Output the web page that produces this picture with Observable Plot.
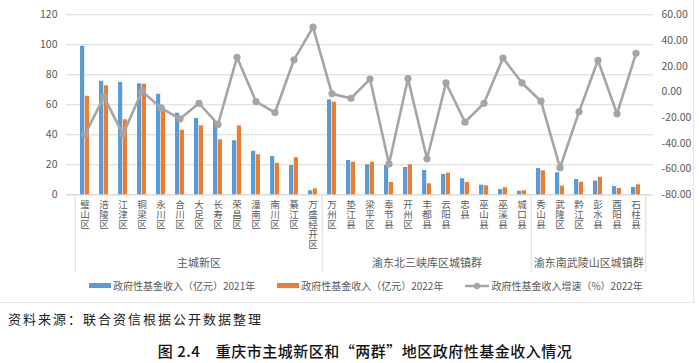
<!DOCTYPE html>
<html><head><meta charset="utf-8">
<script src="https://cdn.jsdelivr.net/npm/d3@7"></script>
<script src="https://cdn.jsdelivr.net/npm/@observablehq/plot@0.6"></script>
<style>
body{margin:0;background:#fff;font-family:"Noto Sans CJK SC","Noto Sans",sans-serif;}
#wrap{position:relative;width:700px;height:363px;}
#chartbox{position:absolute;left:0;top:0;width:694px;height:303px;border-right:1px solid #e6e6e6;border-bottom:1px solid #e6e6e6;box-sizing:border-box;}
#legend{position:absolute;left:89px;top:278px;display:flex;align-items:center;gap:22px;font-size:10px;color:#595959;}
.item{display:flex;align-items:center;gap:2px;white-space:nowrap;}
.sw{display:inline-block;width:22px;height:5px;}
#source{position:absolute;left:8px;top:309px;font-size:13px;letter-spacing:2px;color:#222;}
#title{position:absolute;left:0;width:730px;top:340px;text-align:center;font-size:15px;font-weight:500;color:#111;letter-spacing:0.5px;}
</style></head>
<body>
<div id="wrap">
<div id="chartbox"></div>
<div id="chart" style="position:absolute;left:0;top:0"></div>
<div id="legend"></div>
<div id="source">资料来源：联合资信根据公开数据整理</div>
<div id="title">图 2.4　重庆市主城新区和“两群”地区政府性基金收入情况</div>
</div>
<script>
const categories = ["璧山区","涪陵区","江津区","铜梁区","永川区","合川区","大足区","长寿区","荣昌区","潼南区","南川区","綦江区","万盛经开区","万州区","垫江县","梁平区","奉节县","开州区","丰都县","云阳县","忠县","巫山县","巫溪县","城口县","秀山县","武隆区","黔江区","彭水县","酉阳县","石柱县"];
const income2021 = [99, 75.7, 74.9, 74, 67, 54.4, 50.9, 49, 36, 29, 25.5, 19.5, 2.7, 63.3, 22.9, 20, 19.5, 18.2, 16.2, 13.5, 10.7, 6.4, 3.5, 2.4, 17.5, 14.7, 10.2, 9.1, 5.5, 4.9];
const income2022 = [65.7, 72.7, 50, 73.7, 58.4, 43, 46, 36.7, 46, 26.7, 21, 24.7, 4, 61.7, 21.7, 21.7, 8.2, 20, 7.3, 14.4, 8.2, 6, 4.7, 2.7, 16, 5.8, 8.4, 11.7, 4.2, 6.7];
const growth2022 = [-33, -3.9, -33, 0.5, -12.4, -20.9, -8.8, -25.3, 27, -7.5, -16, 25, 50.4, -1.5, -4.9, 10, -56, 10.4, -52, 7, -23.5, -8.8, 26.4, 7, -7.2, -58.9, -15.5, 24.6, -17, 30];
const groups = ["主城新区","渝东北三峡库区城镇群","渝东南武陵山区城镇群"];
const groupSizes = [13, 11, 6];
const leftTicks = [0, 20, 40, 60, 80, 100, 120];
const rightTicks = [-80, -60, -40, -20, 0, 20, 40, 60];
const seriesNames = ["政府性基金收入（亿元）2021年","政府性基金收入（亿元）2022年","政府性基金收入增速（%）2022年"];
const colors = ["#5B9BD5","#ED7D31","#A5A5A5"];

// map right-axis (growth) values onto the left scale domain
const L = [0, 120], R = [-80, 60];
const toLeft = v => L[0] + (v - R[0]) * (L[1] - L[0]) / (R[1] - R[0]);
const fromLeft = v => R[0] + (v - L[0]) * (R[1] - R[0]) / (L[1] - L[0]);

const rows = categories.map((c, i) => ({cat: c, a: income2021[i], b: income2022[i], g: toLeft(growth2022[i])}));

// group boundaries & label anchors
let start = 0;
const seps = [], groupRows = [];
groupSizes.forEach((n, gi) => {
  seps.push(categories[start]);
  const midIdx = start + Math.floor((n - 1) / 2);
  groupRows.push({cat: categories[midIdx], name: groups[gi], even: n % 2 === 0});
  start += n;
});

const W = 700, H = 275, mL = 66, mR = 47, mT = 14.3, mB = H - 194.3;
const step = (W - mL - mR) / categories.length;
const grid = "#D9D9D9";

const chart = Plot.plot({
  width: W, height: H,
  marginTop: mT, marginBottom: mB, marginLeft: mL, marginRight: mR,
  style: {fontFamily: "'Noto Sans CJK SC', sans-serif", fontSize: "10px", color: "#595959", background: "transparent", overflow: "visible"},
  x: {type: "band", domain: categories, paddingInner: 0.55, paddingOuter: 0.275, axis: null, label: null},
  y: {domain: L, axis: null, label: null},
  marks: [
    Plot.gridY({ticks: leftTicks, stroke: grid, strokeOpacity: 1, strokeWidth: 1}),
    Plot.ruleY([0], {stroke: grid, strokeWidth: 1}),
    Plot.ruleX(seps, {x: d => d, dx: -step / 2, stroke: grid, insetTop: 180, insetBottom: -78}),
    Plot.ruleX([categories[categories.length - 1]], {x: d => d, dx: step / 2, stroke: grid, insetTop: 180, insetBottom: -78}),
    Plot.barY(rows, {x: "cat", y: "a", fill: colors[0], insetRight: 4.8}),
    Plot.barY(rows, {x: "cat", y: "b", fill: colors[1], insetLeft: 4.8}),
    Plot.line(rows, {x: "cat", y: "g", stroke: colors[2], strokeWidth: 2.6}),
    Plot.dot(rows, {x: "cat", y: "g", fill: colors[2], r: 3.6, stroke: "none"}),
    Plot.axisX({tickSize: 0, tickPadding: 6, fontSize: 9.5, lineHeight: 1.06, label: null, tickFormat: d => Array.from(d).join("\n"), fill: "#595959"}),
    Plot.axisY({anchor: "left", ticks: leftTicks, tickSize: 0, tickPadding: 9, fontSize: 10.5, label: null, fill: "#595959"}),
    Plot.axisY({anchor: "right", ticks: rightTicks.map(toLeft), tickSize: 0, tickPadding: 8, fontSize: 10.5, label: null, fill: "#595959",
      tickFormat: v => (Math.round(fromLeft(v) * 100) / 100).toFixed(2)}),
    Plot.text(groupRows.filter(d => !d.even), {x: "cat", text: "name", frameAnchor: "bottom", dy: 72, fontSize: 11, fill: "#595959"}),
    Plot.text(groupRows.filter(d => d.even), {x: "cat", text: "name", frameAnchor: "bottom", dy: 72, dx: step / 2, fontSize: 11, fill: "#595959"})
  ]
});
document.getElementById("chart").appendChild(chart);

const legend = document.getElementById("legend");
seriesNames.forEach((name, i) => {
  const item = document.createElement("div");
  item.className = "item";
  if (i < 2) {
    item.innerHTML = `<span class="sw" style="background:${colors[i]}"></span><span>${name}</span>`;
  } else {
    item.innerHTML = `<svg width="24" height="10"><line x1="0" y1="5" x2="24" y2="5" stroke="${colors[i]}" stroke-width="2.5"/><circle cx="12" cy="5" r="3.2" fill="${colors[i]}"/></svg><span>${name}</span>`;
  }
  legend.appendChild(item);
});
</script>
</body></html>
